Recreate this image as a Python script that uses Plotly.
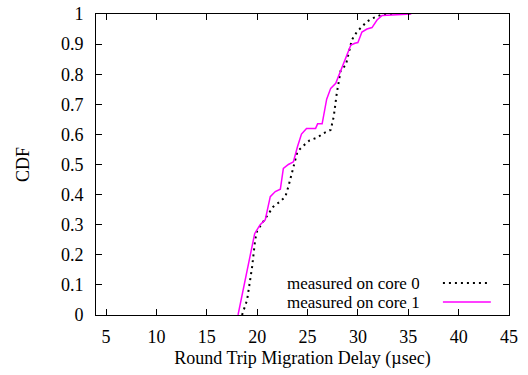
import plotly.graph_objects as go

# Data (delay in usec, CDF)
core0_x = [18.5, 19.0, 19.5, 19.8, 20.0, 20.5, 21.1, 21.6, 22.2, 22.8, 23.1, 23.5, 24.0, 24.5, 25.2, 26.0,
           26.6, 27.3, 27.6, 27.9, 28.3, 28.8, 29.1, 29.4, 29.9, 30.4, 30.9, 31.4, 31.9, 32.5, 35.3]
core0_y = [0.0, 0.05, 0.16, 0.25, 0.28, 0.305, 0.338, 0.36, 0.375, 0.393, 0.427, 0.482, 0.543, 0.56, 0.58, 0.59,
           0.604, 0.615, 0.659, 0.736, 0.814, 0.83, 0.87, 0.914, 0.941, 0.958, 0.975, 0.985, 0.993, 1.0, 1.0]

core1_x = [18.1, 18.65, 19.1, 19.49, 19.75, 20.3, 20.8, 21.3, 21.8, 22.3, 22.6, 23.1, 23.6, 24.0, 24.4, 24.9,
           25.8, 26.0, 26.45, 26.9, 27.3, 27.8, 28.3, 28.8, 29.3, 29.7, 30.0, 30.4, 30.9, 31.4, 31.9, 32.4, 35.3]
core1_y = [0.0, 0.094, 0.16, 0.227, 0.27, 0.30, 0.316, 0.393, 0.41, 0.418, 0.487, 0.50, 0.509, 0.559, 0.601, 0.62,
           0.62, 0.635, 0.635, 0.717, 0.753, 0.77, 0.814, 0.858, 0.897, 0.903, 0.905, 0.94, 0.95, 0.955, 0.98, 0.995, 1.0]

x_ticks = [5, 10, 15, 20, 25, 30, 35, 40, 45]
y_ticks = [0, 0.1, 0.2, 0.3, 0.4, 0.5, 0.6, 0.7, 0.8, 0.9, 1]
y_tick_labels = ["0", "0.1", "0.2", "0.3", "0.4", "0.5", "0.6", "0.7", "0.8", "0.9", "1"]
series_names = ["measured on core 0", "measured on core 1"]

FONT = "Liberation Serif"
BLACK_STYLE = dict(color="black", width=2, dash="2px,4px")
MAG_STYLE = dict(color="#ff00ff", width=1.5)

fig = go.Figure()
fig.add_trace(go.Scatter(x=core0_x, y=core0_y, mode="lines", line=BLACK_STYLE,
                         name=series_names[0], showlegend=False))
fig.add_trace(go.Scatter(x=core1_x, y=core1_y, mode="lines", line=MAG_STYLE,
                         name=series_names[1], showlegend=False))

axis_common = dict(showline=True, linecolor="black", linewidth=1, mirror="allticks",
                   ticks="inside", ticklen=6, tickcolor="black", showgrid=False, zeroline=False,
                   automargin=False,
                   tickfont=dict(family=FONT, size=18, color="black"))

fig.update_xaxes(range=[4, 45], tickvals=x_ticks, ticktext=[str(t) for t in x_ticks],
                 ticklabelstandoff=5,
                 title=dict(text="Round Trip Migration Delay (µsec)",
                            font=dict(family=FONT, size=18, color="black"), standoff=5),
                 **axis_common)
fig.update_yaxes(range=[0, 1], tickvals=y_ticks, ticktext=y_tick_labels,
                 ticklabelstandoff=8,
                 title=dict(text="CDF", font=dict(family=FONT, size=18, color="black"), standoff=26),
                 **axis_common)

# gnuplot-style legend: text right-aligned, line sample to its right
legend_rows = [(series_names[0], BLACK_STYLE, 0.106), (series_names[1], MAG_STYLE, 0.043)]
for text, style, yp in legend_rows:
    fig.add_annotation(x=0.79, y=yp, xref="paper", yref="paper", text=text, showarrow=False,
                       xanchor="right", yanchor="middle", height=17,
                       font=dict(family=FONT, size=17, color="black"))
    fig.add_shape(type="line", xref="paper", yref="paper", x0=0.84, x1=0.956, y0=yp, y1=yp,
                  line=style)

fig.update_layout(width=528, height=375, margin=dict(l=96, r=19, t=14, b=60),
                  plot_bgcolor="white", paper_bgcolor="white",
                  font=dict(family=FONT, size=18, color="black"))

fig.write_html("out.html")
